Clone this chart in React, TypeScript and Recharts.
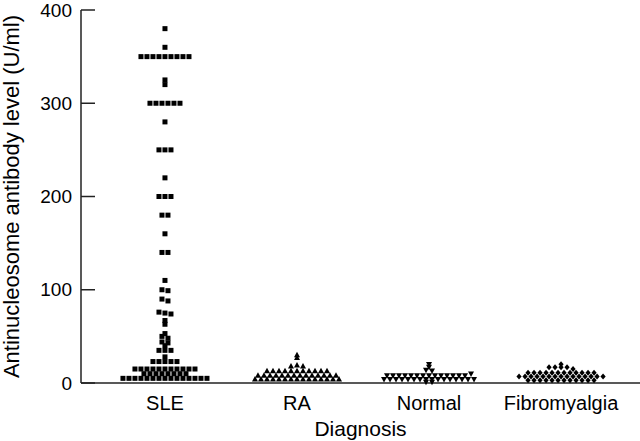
import { ScatterChart, Scatter, XAxis, YAxis } from "recharts";

const categories = ["SLE", "RA", "Normal", "Fibromyalgia"];

// values, row by row from the top, left to right
const sleValues = [
  380,
  360,
  350, 350, 350, 350, 350, 350, 350, 350, 350,
  325,
  320,
  300, 300, 300, 300, 300, 300,
  280,
  250, 250, 250,
  220,
  200, 200, 200,
  180, 180,
  160,
  140, 140,
  110,
  100, 99,
  90, 88,
  76, 75, 74,
  67,
  63,
  53,
  50, 48,
  44, 43,
  40,
  35, 35, 35,
  28,
  23, 23, 23, 23, 23,
  15, 15, 15, 15, 15, 15, 15, 15, 15, 15, 15,
  10, 10, 10, 10, 10, 10, 10, 10,
  5, 5, 5, 5, 5, 5, 5, 5, 5, 5, 5, 5, 5, 5, 5,
];

const raValues = [
  30,
  27,
  18, 19, 18,
  13, 13, 13, 13, 13, 13, 13, 13, 13, 13, 13,
  8, 8, 8, 8, 8, 8, 8, 8, 8, 8, 8, 8, 8, 8,
  4, 4, 4, 4, 4, 4, 4, 4, 4, 4, 4, 4, 4, 4, 4,
];

const normalValues = [
  20,
  17,
  14, 13,
  8, 8, 8, 8, 8, 8, 8, 8, 8, 8, 8, 8, 8, 8, 10,
  4, 4, 4, 4, 4, 4, 4, 4, 4, 4, 4, 4, 4, 4, 4, 4,
  1, 1,
];

const fibroValues = [
  20,
  17, 17, 17, 17, 15,
  11, 11, 11, 11, 11, 11, 11, 11, 11, 11, 11, 11,
  7, 7, 7, 7, 7, 7, 7, 7, 7, 7, 7, 7, 7, 7, 7,
  3, 3, 3, 3, 3, 3, 3, 3, 3, 3, 3, 3,
];

const yTicks = [0, 100, 200, 300, 400];
const xTicks = [1, 2, 3, 4];

const FONT = "'Liberation Sans', Arial, sans-serif";
const AXIS = "#222";
const ROW_TOL = 2.5; // values this close share a row
const STEP = 6 / 132; // ~6px between neighbours in a row

// simple dot-plot layout: group close values into rows, centre each row on the category
function swarm(values: number[], pos: number) {
  const order = values
    .map((v, i) => ({ v, i }))
    .sort((a, b) => b.v - a.v || a.i - b.i);
  const rows: { v: number; i: number }[][] = [];
  for (const p of order) {
    const row = rows[rows.length - 1];
    if (row && row[0].v - p.v <= ROW_TOL) row.push(p);
    else rows.push([p]);
  }
  const out: { x: number; y: number }[] = [];
  for (const row of rows) {
    row.sort((a, b) => a.i - b.i);
    row.forEach((p, j) => {
      out.push({ x: pos + (j - (row.length - 1) / 2) * STEP, y: p.v });
    });
  }
  return out;
}

const Square = ({ cx, cy }: any) => (
  <rect x={cx - 2.5} y={cy - 2.5} width={5} height={5} fill="#000" />
);
const TriUp = ({ cx, cy }: any) => (
  <polygon
    points={`${cx},${cy - 3.2} ${cx + 3},${cy + 2.3} ${cx - 3},${cy + 2.3}`}
    fill="#000"
  />
);
const TriDown = ({ cx, cy }: any) => (
  <polygon
    points={`${cx},${cy + 3.2} ${cx + 3},${cy - 2.3} ${cx - 3},${cy - 2.3}`}
    fill="#000"
  />
);
const Diamond = ({ cx, cy }: any) => (
  <polygon
    points={`${cx},${cy - 3} ${cx + 2.6},${cy} ${cx},${cy + 3} ${cx - 2.6},${cy}`}
    fill="#000"
  />
);

export default function App() {
  return (
    <div style={{ position: "fixed", left: 0, top: 0, background: "#fff" }}>
      <ScatterChart
        width={640}
        height={441}
        margin={{ top: 10, right: 0, bottom: 0, left: 0 }}
        style={{ fontFamily: FONT }}
      >
        <XAxis
          type="number"
          dataKey="x"
          domain={[0.364, 4.598]}
          ticks={xTicks}
          interval={0}
          tickFormatter={(v) => categories[v - 1]}
          height={58}
          tickLine={false}
          tickSize={6}
          tickMargin={7}
          axisLine={{ stroke: AXIS, strokeWidth: 1.5 }}
          tick={{ fill: "#000", fontSize: 20 }}
          label={{
            value: "Diagnosis",
            position: "insideBottom",
            offset: 5,
            style: { fill: "#000", fontSize: 21 },
          }}
        />
        <YAxis
          type="number"
          dataKey="y"
          domain={[0, 400]}
          ticks={yTicks}
          interval={0}
          width={81}
          tickSize={-14}
          tickMargin={23}
          axisLine={{ stroke: AXIS, strokeWidth: 1.5 }}
          tickLine={{ stroke: AXIS, strokeWidth: 1.5 }}
          tick={{ fill: "#000", fontSize: 19 }}
          label={{
            value: "Antinucleosome antibody level (U/ml)",
            angle: -90,
            position: "insideLeft",
            offset: 3,
            dx: 8,
            style: { textAnchor: "middle", fill: "#000", fontSize: 22 },
          }}
        />
        <Scatter data={swarm(sleValues, 1)} shape={Square} isAnimationActive={false} />
        <Scatter data={swarm(raValues, 2)} shape={TriUp} isAnimationActive={false} />
        <Scatter data={swarm(normalValues, 3)} shape={TriDown} isAnimationActive={false} />
        <Scatter data={swarm(fibroValues, 4)} shape={Diamond} isAnimationActive={false} />
      </ScatterChart>
    </div>
  );
}
